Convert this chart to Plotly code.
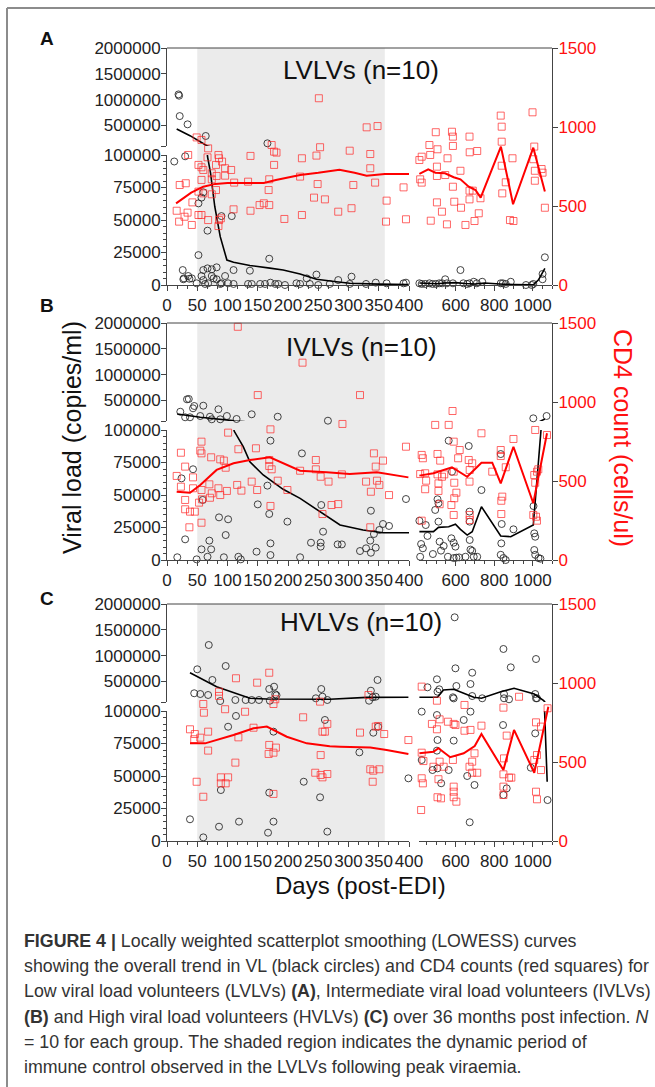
import plotly.graph_objects as go

# ---------------- DATA ----------------
# Panel A (LVLVs)
A_vl_day = [19, 20, 21, 34, 64, 166,
            12, 30, 52, 52, 57, 60, 67, 90, 107, 169, 137, 110, 82, 74, 67, 60, 26, 28, 37, 247, 231, 305, 283,
            27, 35, 41, 49, 57, 60, 63, 68, 74, 77, 82, 88, 90, 96, 101, 110, 134, 140, 154, 162, 171, 179, 184, 195,
            214, 220, 236, 250, 269, 302, 329, 345, 363, 391, 395,
            412, 424, 442, 464, 480, 497, 515, 530, 546, 555, 586, 625, 640, 660, 672, 694, 710, 738, 834, 845, 860,
            886, 965, 995, 1003, 1051, 1051, 1063]
A_vl = [1100000, 1075000, 680000, 520000, 294000, 152000,
        95000, 99000, 23000, 62800, 67200, 71300, 41800, 53000, 53000, 20200, 11000, 11500, 13600, 12100, 12800, 11500, 11500, 5100, 4800, 8000, 5100, 6400, 3800,
        4400, 6900, 5100, 1300, 6900, 3800, 800, 1300, 6900, 5100, 4400, 800, 1300, 6900, 1300, 800, 800, 800, 800, 800, 1800, 800, 800, 0,
        1300, 800, 800, 0, 800, 800, 800, 1800, 1300, 1300, 1800,
        1300, 800, 800, 1300, 800, 800, 1300, 1300, 4400, 1300, 1300, 11500, 1300, 800, 1300, 2500, 1300, 2500, 1300, 1300, 800,
        2500, 0, 0, 800, 8500, 4400, 21300]
A_cd4_day = [16, 20, 21, 31, 29, 34, 41, 42, 35, 52, 52, 57, 52, 57, 60, 57, 60, 68, 67, 74, 74, 74, 81, 82, 81, 85, 86, 91,
             96, 96, 106, 86, 89, 85, 110, 111, 138, 134, 138, 153, 160, 169, 168, 169, 177, 173, 177, 181, 194, 223, 220,
             223, 247, 253, 249, 243, 261, 283, 302, 305, 308, 336, 336, 344, 363, 362, 391, 395, 49, 57, 68, 251, 330, 348,
             412, 424, 416, 424, 464, 468, 471, 497, 506, 503, 503, 503, 529, 546, 558, 555, 581, 586, 586, 586, 593, 625,
             628, 651, 672, 673, 672, 672, 689, 698, 712, 720, 729, 834, 839, 839, 839, 842, 860, 882, 900, 895, 999, 1008,
             1003, 1011, 1011, 1046, 1051, 1063]
A_cd4 = [470, 401, 633, 644, 432, 458, 380, 523, 823, 591, 443, 443, 760, 745, 728, 665, 580, 411, 808, 707, 669, 574, 601, 690, 760, 823, 802, 781,
         739, 692, 728, 411, 422, 373, 479, 648, 817, 654, 470, 506, 517, 506, 601, 669, 760, 886, 844, 838, 418, 802, 686,
         443, 819, 872, 639, 553, 542, 464, 850, 486, 633, 829, 739, 648, 534, 401, 618, 416, 934, 918, 865, 1182, 998, 1006,
         791, 812, 669, 648, 886, 823, 407, 967, 859, 749, 690, 523, 464, 696, 802, 384, 970, 939, 880, 622, 527, 723,
         489, 380, 939, 840, 597, 542, 597, 405, 848, 454, 549, 1072, 1002, 907, 755, 580, 650, 411, 405, 802, 1093, 876,
         796, 723, 660, 734, 711, 489]
A_vlfit_l_day = [16, 38, 64, 67, 72, 79, 88, 99, 110, 137, 170, 192, 220, 247, 280, 302, 350, 399]
A_vlfit_l = [430000, 300000, 120000, 98700, 86000, 60200, 37200, 19200, 17500, 15000, 13000, 11500, 8500, 4400, 2500, 1300, 700, 300]
A_vlfit_r_day = [412, 450, 500, 550, 600, 650, 700, 750, 800, 850, 900, 950, 1003, 1030, 1063]
A_vlfit_r = [1500, 1200, 1000, 1500, 1800, 1200, 800, 1500, 800, 600, 400, 200, 100, 4000, 12800]
A_cdfit_l_day = [15, 40, 60, 80, 100, 130, 160, 180, 200, 220, 250, 285, 310, 330, 360, 400]
A_cdfit_l = [517, 585, 622, 640, 645, 645, 645, 665, 680, 696, 710, 730, 710, 692, 703, 703]
A_cdfit_r_day = [412, 458, 495, 545, 590, 625, 668, 703, 730, 835, 898, 1003, 1063]
A_cdfit_r = [703, 732, 711, 707, 682, 669, 622, 601, 553, 876, 511, 869, 591]

# Panel B (IVLVs)
B_vl_day = [22, 30, 38, 33, 36, 43, 45, 55, 60, 71, 74, 85, 88, 99, 115, 140, 183, 266,
            17, 24, 30, 43, 49, 57, 59, 67, 70, 73, 86, 97, 94, 101, 118, 122, 148, 150, 166, 169, 171, 171, 171, 199, 220,
            223, 238, 254, 254, 255, 258, 282, 289, 319, 329, 336, 337, 337, 342, 345, 351, 357, 367, 395,
            412, 416, 421, 430, 445, 454, 482, 494, 506, 511, 511, 517, 524, 538, 560, 564, 578, 581, 590, 604, 618, 590,
            599, 651, 668, 672, 673, 673, 677, 686, 694, 712, 734, 834, 839, 834, 848, 860, 837, 900, 1003, 1004, 1008,
            1013, 1008, 1013, 1030, 1040, 1072]
B_vl = [280000, 172000, 172000, 520000, 527000, 346000, 391000, 197000, 397000, 183000, 133000, 327000, 133000, 197000, 139000, 230000, 183000, 106000,
        2100, 62800, 15900, 69800, 500, 8200, 46200, 2500, 14900, 8200, 32800, 19200, 2100, 31300, 2500, 500, 6400, 42800, 57200, 35400, 91800, 12800, 3800, 29500, 2100,
        82000, 13300, 10300, 13300, 42300, 21800, 12000, 12000, 6900, 9000, 14900, 37900, 5600, 20000, 9500, 23100, 27700, 26200, 46900,
        30200, 2500, 12300, 9000, 26900, 18500, 4600, 38500, 46700, 43600, 29500, 14100, 7200, 10800, 2500, 91800, 16700, 67900, 1500, 1800, 2000, 13300,
        10300, 2500, 87700, 37200, 15400, 29500, 8000, 7000, 2500, 2500, 53800, 81500, 27700, 4000, 1500, 0, 12800, 23600, 152000, 41500, 20500,
        17900, 7700, 4000, 1500, 1000, 197000]
B_cd4_day = [16, 23, 30, 23, 30, 30, 37, 38, 46, 43, 43, 53, 57, 57, 58, 55, 57, 57, 70, 71, 74, 73, 85, 88, 88, 94, 97, 99,
             101, 116, 118, 123, 140, 147, 149, 169, 169, 171, 173, 171, 183, 199, 220, 246, 246, 254, 257, 267, 272, 283,
             289, 290, 329, 337, 342, 345, 347, 351, 357, 367, 336, 395, 117, 224, 150, 319,
             416, 424, 430, 424, 442, 447, 442, 494, 506, 506, 511, 511, 517, 520, 529, 541, 564, 584, 578, 590, 590, 593,
             593, 590, 604, 613, 621, 668, 672, 673, 673, 673, 686, 734, 834, 834, 837, 837, 842, 860, 790, 900, 1013, 1008,
             1013, 1022, 1029, 1003, 1017, 1022, 1074]
B_cd4 = [532, 464, 591, 679, 380, 321, 207, 306, 306, 523, 454, 363, 443, 236, 384, 692, 675, 749, 479, 394, 422, 650, 454, 411, 637, 629, 584, 437,
         806, 475, 701, 439, 496, 707, 443, 633, 595, 827, 574, 342, 502, 443, 565, 633, 574, 527, 291, 496, 348, 354,
         542, 861, 496, 432, 675, 591, 502, 475, 629, 411, 207, 717, 1476, 1249, 1044, 1044,
         544, 665, 644, 249, 549, 502, 448, 855, 671, 542, 485, 437, 353, 629, 527, 542, 855, 943, 348, 749, 559, 489,
         391, 285, 426, 644, 696, 633, 496, 570, 285, 253, 612, 802, 696, 658, 375, 291, 401, 587, 559, 766, 823, 538,
         489, 559, 574, 285, 274, 249, 791]
B_vlfit_l_day = [17, 55, 108, 111, 126, 137, 159, 192, 220, 253, 286, 324, 357, 400]
B_vlfit_l = [236000, 172000, 108000, 99200, 87200, 75600, 65400, 54400, 47400, 37200, 26900, 23100, 21000, 21000]
B_vlfit_r_day = [412, 485, 511, 564, 599, 625, 660, 686, 734, 834, 886, 1003, 1043, 1063]
B_vlfit_r = [21800, 21800, 25100, 25600, 27500, 23600, 19200, 21800, 41000, 18500, 17900, 26900, 100000, 140000]
B_cdfit_l_day = [16, 38, 55, 82, 110, 137, 170, 192, 220, 264, 302, 347, 399]
B_cdfit_l = [432, 426, 475, 570, 612, 633, 650, 612, 565, 555, 544, 555, 523]
B_cdfit_r_day = [412, 485, 581, 616, 660, 734, 790, 834, 900, 1003, 1074]
B_cdfit_r = [534, 549, 587, 559, 527, 616, 616, 485, 717, 359, 802]

# Panel C (HVLVs)
C_vl_day = [69, 50, 97, 75, 45, 55, 68, 88, 113, 130, 140, 152, 169, 177, 179, 181, 170, 246, 255, 257, 265, 334, 337, 340, 345, 348,
            38, 60, 86, 89, 101, 114, 119, 167, 169, 176, 176, 226, 253, 261, 265, 318, 341, 349, 399,
            404, 424, 424, 454, 503, 506, 515, 503, 506, 503, 480, 506, 525, 564, 586, 590, 599, 604, 590, 642, 673, 660,
            677, 686, 677, 686, 698, 738, 848, 851, 851, 846, 848, 865, 886, 877, 1017, 1013, 1017, 1022, 1013, 990, 1077, 595]
C_vl = [1205000, 734000, 798000, 527000, 269000, 255000, 236000, 119000, 139000, 139000, 139000, 139000, 352000, 397000, 249000, 230000, 125000, 172000, 352000, 203000, 139000, 125000, 319000, 191000, 203000, 527000,
        16700, 2800, 11000, 39200, 87900, 96200, 14900, 6400, 37200, 84100, 14900, 45600, 33600, 93100, 7200, 68200, 83300, 87900, 48200,
        385000, 99500, 62300, 385000, 540000, 300000, 346000, 96900, 77700, 69500, 54600, 55900, 44400, 54600, 191000, 170000, 753000, 410000, 77200, 93100, 14400, 50000,
        449000, 668000, 99500, 216000, 43100, 172000, 1128000, 172000, 255000, 89200, 35400, 40500, 772000, 152000, 933000, 255000, 172000, 172000, 82800, 56400, 31500, 1742000]
C_cd4_day = [38, 46, 45, 55, 49, 60, 60, 61, 68, 68, 86, 86, 96, 89, 89, 97, 101, 113, 118, 114, 129, 143, 149, 169, 169, 168,
             176, 180, 176, 179, 176, 225, 245, 254, 254, 257, 253, 257, 261, 265, 265, 319, 333, 336, 341, 340, 345, 349,
             351, 359, 399,
             424, 424, 433, 424, 430, 421, 477, 485, 503, 503, 511, 506, 524, 517, 517, 538, 560, 586, 590, 599, 590, 590,
             590, 604, 646, 646, 677, 672, 686, 698, 686, 712, 734, 848, 851, 848, 848, 848, 865, 877, 889, 929, 1017, 1008,
             1022, 1017, 1022, 1043, 1043, 1077]
C_cd4 = [707, 677, 644, 654, 375, 280, 867, 812, 692, 572, 945, 918, 834, 403, 365, 365, 403, 496, 656, 1030, 818, 717, 1002, 1065, 608, 551,
         559, 591, 867, 897, 298, 783, 432, 544, 418, 403, 882, 692, 692, 741, 424, 686, 924, 454, 445, 375, 724, 728,
         454, 677, 639,
         977, 559, 506, 397, 365, 196, 741, 470, 707, 888, 391, 277, 270, 502, 770, 470, 755, 513, 741, 734, 344, 312,
         277, 249, 861, 698, 703, 470, 502, 555, 432, 432, 730, 844, 523, 422, 344, 291, 667, 401, 401, 913, 751, 513,
         544, 312, 264, 724, 449, 840]
C_vlfit_l_day = [38, 82, 137, 165, 269, 330, 399]
C_vlfit_l = [668000, 397000, 172000, 158000, 152000, 190000, 191000]
C_vlfit_r_day = [412, 506, 537, 590, 642, 694, 734, 834, 903, 1008, 1057, 1062, 1075]
C_vlfit_r = [191000, 191000, 333000, 346000, 269000, 191000, 172000, 300000, 366000, 255000, 125000, 98000, 45600]
C_cdfit_l_day = [38, 63, 110, 143, 165, 198, 231, 269, 286, 336, 363, 399]
C_cdfit_l = [618, 618, 671, 713, 724, 660, 618, 600, 597, 591, 576, 551]
C_cdfit_r_day = [412, 485, 511, 572, 642, 699, 734, 848, 903, 1008, 1081]
C_cdfit_r = [555, 565, 587, 530, 555, 601, 677, 449, 703, 432, 850]

panel_titles = ["LVLVs (n=10)", "IVLVs (n=10)", "HVLVs (n=10)"]
panel_letters = ["A", "B", "C"]
vl_low_ticks = [0, 25000, 50000, 75000, 100000]
vl_up_ticks = [500000, 1000000, 1500000, 2000000]
cd4_ticks = [0, 500, 1000, 1500]
x_left_ticks = [0, 50, 100, 150, 200, 250, 300, 350, 400]
x_right_ticks = [600, 800, 1000]
shade_days = [50, 360]
caption_lines = [
    "<b>FIGURE 4 |</b> Locally weighted scatterplot smoothing (LOWESS) curves",
    "showing the overall trend in VL (black circles) and CD4 counts (red squares) for",
    "Low viral load volunteers (LVLVs) <b>(A)</b>, Intermediate viral load volunteers (IVLVs)",
    "<b>(B)</b> and High viral load volunteers (HVLVs) <b>(C)</b> over 36 months post infection. <i>N</i>",
    "= 10 for each group. The shaded region indicates the dynamic period of",
    "immune control observed in the LVLVs following peak viraemia.",
]

data = [
    (A_vl_day, A_vl, A_cd4_day, A_cd4, A_vlfit_l_day, A_vlfit_l, A_vlfit_r_day, A_vlfit_r,
     A_cdfit_l_day, A_cdfit_l, A_cdfit_r_day, A_cdfit_r),
    (B_vl_day, B_vl, B_cd4_day, B_cd4, B_vlfit_l_day, B_vlfit_l, B_vlfit_r_day, B_vlfit_r,
     B_cdfit_l_day, B_cdfit_l, B_cdfit_r_day, B_cdfit_r),
    (C_vl_day, C_vl, C_cd4_day, C_cd4, C_vlfit_l_day, C_vlfit_l, C_vlfit_r_day, C_vlfit_r,
     C_cdfit_l_day, C_cdfit_l, C_cdfit_r_day, C_cdfit_r),
]

# ---------------- LAYOUT ----------------
W, H = 655, 1087
def PX(x): return x / W
def PY(y): return 1 - y / H
def nm(k): return "" if k == 1 else str(k)

FONT = "Arial, Liberation Sans, sans-serif"
AX = "#444444"
BLK = "rgba(35,35,35,0.85)"
RED = "rgba(255,45,45,0.72)"
tops = [48, 323, 604]
title_y = [70, 347, 622]
letter_y = [38, 305, 598]
PH = 237
XL0, XL1, XR0, XR1 = 167, 409, 419, 552

fig = go.Figure()
layout = dict(width=W, height=H, margin=dict(l=0, r=0, t=0, b=0, autoexpand=False),
              paper_bgcolor="white", plot_bgcolor="rgba(0,0,0,0)",
              showlegend=False, font=dict(family=FONT, color="#222"))
shapes, annos = [], []

tickfont = dict(family=FONT, size=17, color="#222")
for p, top in enumerate(tops):
    bot = top + PH
    xl, xr = 2 * p + 1, 2 * p + 2
    yl, yu, yc = 3 * p + 1, 3 * p + 2, 3 * p + 3
    common_x = dict(showline=True, linecolor=AX, linewidth=1, ticks="outside", ticklen=5,
                    tickcolor=AX, showgrid=False, zeroline=False, tickangle=0,
                    tickfont=tickfont, anchor="y" + nm(yl), fixedrange=True, automargin=False)
    layout["xaxis" + nm(xl)] = dict(common_x, domain=[PX(XL0), PX(XL1)], range=[0, 400],
                                   tickmode="array", tickvals=x_left_ticks,
                                   minor=dict(dtick=50 / 3, tick0=0, ticks="outside", ticklen=3, tickcolor=AX))
    layout["xaxis" + nm(xr)] = dict(common_x, domain=[PX(XR0), PX(XR1)], range=[410, 1100],
                                   tickmode="array", tickvals=x_right_ticks,
                                   minor=dict(dtick=50, tick0=400, ticks="outside", ticklen=3, tickcolor=AX))
    common_y = dict(showline=True, linecolor=AX, linewidth=1, ticks="outside", ticklen=5,
                    tickcolor=AX, showgrid=False, zeroline=False, tickfont=tickfont,
                    anchor="x" + nm(xl), fixedrange=True, automargin=False, ticklabelstandoff=-3)
    layout["yaxis" + nm(yl)] = dict(common_y, domain=[PY(bot), PY(top + 107)], range=[0, 100000],
                                   tickmode="array", tickvals=vl_low_ticks,
                                   ticktext=[str(v) for v in vl_low_ticks],
                                   minor=dict(dtick=5000, ticks="outside", ticklen=3, tickcolor=AX))
    layout["yaxis" + nm(yu)] = dict(common_y, domain=[PY(top + 98), PY(top)], range=[100000, 2000000],
                                   tickmode="array", tickvals=vl_up_ticks,
                                   ticktext=[str(v) for v in vl_up_ticks],
                                   minor=dict(tickmode="array", tickvals=[100000], ticks="outside", ticklen=5, tickcolor=AX))
    layout["yaxis" + nm(yc)] = dict(showline=True, linecolor=AX, linewidth=1, ticks="outside", ticklen=5,
                                   tickcolor=AX, showgrid=False, zeroline=False, automargin=False,
                                   ticklabelstandoff=-3,
                                   tickfont=dict(family=FONT, size=17, color="#ff1010"),
                                   side="right", anchor="x" + nm(xr), domain=[PY(bot), PY(top)],
                                   range=[0, 1500], tickmode="array", tickvals=cd4_ticks, fixedrange=True)

    (vd, vv, cd, cv, vfl_d, vfl, vfr_d, vfr, cfl_d, cfl, cfr_d, cfr) = data[p]

    # shaded region
    shapes.append(dict(type="rect", xref="x" + nm(xl), yref="paper", x0=shade_days[0], x1=shade_days[1],
                       y0=PY(bot), y1=PY(top), fillcolor="#ebebeb", line=dict(width=0), layer="below"))
    # top frame line
    shapes.append(dict(type="line", xref="paper", yref="paper", x0=PX(XL0), x1=PX(XR1),
                       y0=PY(top), y1=PY(top), line=dict(color=AX, width=1)))

    # CD4 markers
    for xa, cond in ((xl, lambda d: d <= 405), (xr, lambda d: d > 405)):
        xs = [d for d, v in zip(cd, cv) if cond(d)]
        ys = [v for d, v in zip(cd, cv) if cond(d)]
        fig.add_trace(go.Scatter(x=xs, y=ys, mode="markers", xaxis="x" + nm(xa), yaxis="y" + nm(yc),
                                 cliponaxis=False,
                                 marker=dict(symbol="square-open", size=7, color=RED, line=dict(width=1)),
                                 hoverinfo="skip"))
    # VL markers (split across the broken axes)
    for xa, cond in ((xl, lambda d: d <= 405), (xr, lambda d: d > 405)):
        for ya, vcond in ((yl, lambda v: v <= 100000), (yu, lambda v: v > 100000)):
            xs = [d for d, v in zip(vd, vv) if cond(d) and vcond(v)]
            ys = [v for d, v in zip(vd, vv) if cond(d) and vcond(v)]
            fig.add_trace(go.Scatter(x=xs, y=ys, mode="markers", xaxis="x" + nm(xa), yaxis="y" + nm(ya),
                                     cliponaxis=False,
                                     marker=dict(symbol="circle-open", size=7, color=BLK, line=dict(width=1)),
                                     hoverinfo="skip"))
    # CD4 fits
    fig.add_trace(go.Scatter(x=cfl_d, y=cfl, mode="lines", xaxis="x" + nm(xl), yaxis="y" + nm(yc),
                             line=dict(color="#ff0000", width=2), hoverinfo="skip"))
    fig.add_trace(go.Scatter(x=cfr_d, y=cfr, mode="lines", xaxis="x" + nm(xr), yaxis="y" + nm(yc),
                             line=dict(color="#ff0000", width=2), hoverinfo="skip"))
    # VL fits (drawn on both broken segments; clipping splits them)
    for ya in (yl, yu):
        fig.add_trace(go.Scatter(x=vfl_d, y=vfl, mode="lines", xaxis="x" + nm(xl), yaxis="y" + nm(ya),
                                 line=dict(color="black", width=1.6), hoverinfo="skip"))
        fig.add_trace(go.Scatter(x=vfr_d, y=vfr, mode="lines", xaxis="x" + nm(xr), yaxis="y" + nm(ya),
                                 line=dict(color="black", width=1.6), hoverinfo="skip"))

    annos.append(dict(text=panel_titles[p], x=PX(361), y=PY(title_y[p]), xref="paper", yref="paper",
                      showarrow=False, xanchor="center", yanchor="middle",
                      font=dict(family=FONT, size=26, color="#111")))
    annos.append(dict(text="<b>" + panel_letters[p] + "</b>", x=PX(47), y=PY(letter_y[p]), xref="paper",
                      yref="paper", showarrow=False, xanchor="center", yanchor="middle",
                      font=dict(family=FONT, size=19, color="#111")))

annos.append(dict(text="Viral load (copies/ml)", x=PX(72), y=PY(438), xref="paper", yref="paper",
                  showarrow=False, textangle=-90, xanchor="center", yanchor="middle",
                  font=dict(family=FONT, size=25, color="#111")))
annos.append(dict(text="CD4 count (cells/ul)", x=PX(623), y=PY(438), xref="paper", yref="paper",
                  showarrow=False, textangle=90, xanchor="center", yanchor="middle",
                  font=dict(family=FONT, size=25, color="#ff1010")))
annos.append(dict(text="Days (post-EDI)", x=PX(360), y=PY(885), xref="paper", yref="paper",
                  showarrow=False, xanchor="center", yanchor="middle",
                  font=dict(family=FONT, size=24, color="#111")))
for i, line in enumerate(caption_lines):
    annos.append(dict(text=line, x=PX(22), y=PY(941 + 25.2 * i), xref="paper", yref="paper",
                      showarrow=False, xanchor="left", yanchor="middle",
                      font=dict(family=FONT, size=17.8, color="#333")))

# outer border (left and top)
shapes.append(dict(type="line", xref="paper", yref="paper", x0=PX(7), x1=PX(7), y0=PY(8), y1=PY(1100),
                   line=dict(color="#8c8c8c", width=2)))
shapes.append(dict(type="line", xref="paper", yref="paper", x0=PX(7), x1=PX(700), y0=PY(8), y1=PY(8),
                   line=dict(color="#8c8c8c", width=2)))

layout["shapes"] = shapes
layout["annotations"] = annos
fig.update_layout(**layout)
fig.write_html("out.html", config={"displayModeBar": False},
               post_script="document.body.style.margin='0';document.body.style.padding='0';"
                           "document.documentElement.style.overflow='hidden';")
